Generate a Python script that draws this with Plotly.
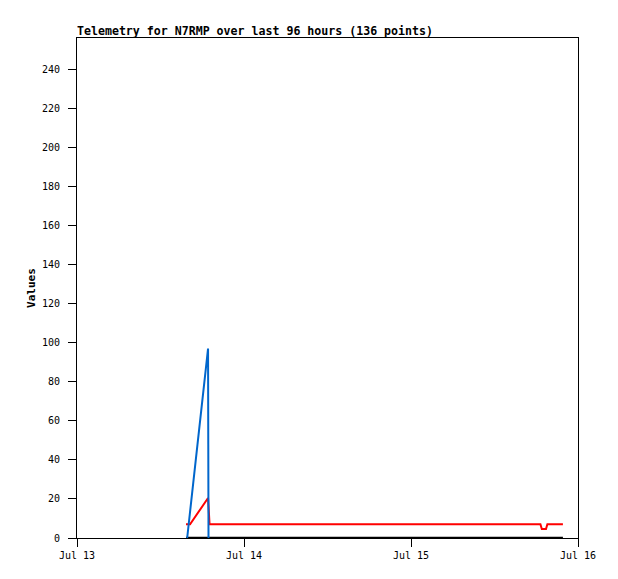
import plotly.graph_objects as go

# Series data
black_times = ["2023-07-13 15:40", "2023-07-15 21:50"]
black_values = [0, 0]

red_times = ["2023-07-13 15:40", "2023-07-13 16:15", "2023-07-13 18:50", "2023-07-13 19:03",
             "2023-07-15 18:36", "2023-07-15 18:48", "2023-07-15 19:24", "2023-07-15 19:36",
             "2023-07-15 21:50"]
red_values = [7, 7, 20.5, 7, 7, 4.6, 4.6, 7, 7]

blue_times = ["2023-07-13 15:50", "2023-07-13 18:50", "2023-07-13 18:52", "2023-07-13 18:54"]
blue_values = [0, 97, 48, 0]

x_tick_vals = ["2023-07-13", "2023-07-14", "2023-07-15", "2023-07-16"]
x_tick_text = ["Jul 13", "Jul 14", "Jul 15", "Jul 16"]
y_tick_vals = list(range(0, 241, 20))

title_text = "Telemetry for N7RMP over last 96 hours (136 points)"
mono = "DejaVu Sans Mono"

fig = go.Figure()
fig.add_trace(go.Scatter(x=black_times, y=black_values, mode="lines",
                         line=dict(color="#000000", width=2.5), showlegend=False))
fig.add_trace(go.Scatter(x=red_times, y=red_values, mode="lines",
                         line=dict(color="#ff0000", width=2), showlegend=False))
fig.add_trace(go.Scatter(x=blue_times, y=blue_values, mode="lines",
                         line=dict(color="#0066cc", width=2), showlegend=False))

fig.update_layout(
    width=618, height=579,
    margin=dict(l=77, r=40, t=38, b=41, autoexpand=False),
    paper_bgcolor="white", plot_bgcolor="white",
    title=dict(text="<b>" + title_text + "</b>", x=77 / 618, xanchor="left",
               y=1 - 31 / 579, yanchor="middle",
               font=dict(family=mono, size=11.6, color="black")),
    font=dict(family=mono, color="black"),
)
fig.update_xaxes(
    type="date", range=["2023-07-13", "2023-07-16"],
    tickvals=x_tick_vals, ticktext=x_tick_text,
    showgrid=False, zeroline=False,
    showline=True, linecolor="black", linewidth=1, mirror=True,
    ticks="outside", ticklen=8, tickcolor="black", tickwidth=1,
    tickfont=dict(family=mono, size=10, color="black"),
)
fig.update_yaxes(
    range=[0, 256], tickvals=y_tick_vals,
    showgrid=False, zeroline=False,
    showline=True, linecolor="black", linewidth=1, mirror=True,
    ticks="outside", ticklen=8, tickcolor="black", tickwidth=1,
    ticklabelstandoff=6,
    tickfont=dict(family=mono, size=10, color="black"),
    title=dict(text="<b>Values</b>", font=dict(family=mono, size=11, color="black"), standoff=4),
)

fig.write_html("out.html", config={"displayModeBar": False},
               post_script="document.body.style.margin='0';")
